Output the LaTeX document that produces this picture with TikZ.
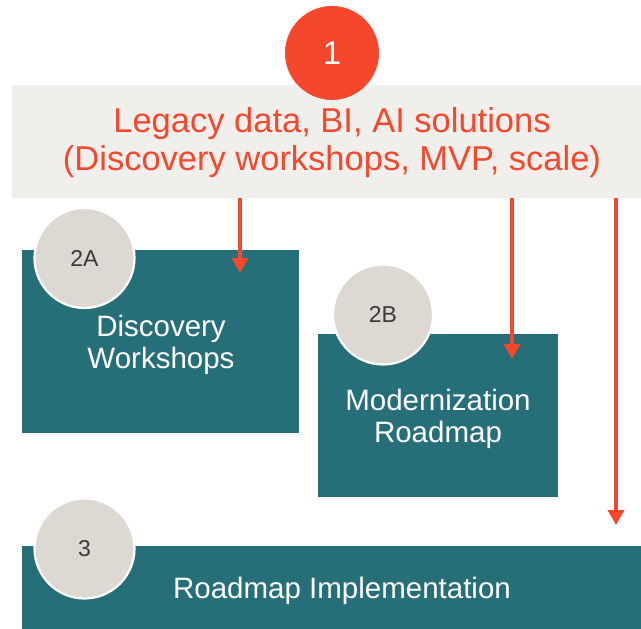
\documentclass[tikz,border=0pt]{standalone}
\usepackage{fontspec}
\setmainfont{Liberation Sans}
\usetikzlibrary{arrows.meta}
\definecolor{accent}{HTML}{F5472C}
\definecolor{teal}{HTML}{276F78}
\definecolor{bandgray}{HTML}{F0EFEB}
\definecolor{circgray}{HTML}{DDD9D2}
\definecolor{numgray}{HTML}{3A3A3A}
\begin{document}
\begin{tikzpicture}[x=1pt,y=-1pt,
  band/.style={fill=bandgray, draw=none, inner sep=0pt, anchor=north west,
    minimum width=629pt, minimum height=113pt},
  tealbox/.style={fill=teal, draw=none, inner sep=0pt, anchor=north west},
  boxtxt/.style={inner sep=0pt, text=white, align=center, font=\fontsize{29.5}{32}\selectfont},
  badge/.style={circle, fill=circgray, draw=white, line width=2.2pt, inner sep=0pt,
    minimum size=100pt, text=numgray, font=\fontsize{23}{26}\selectfont},
  redbadge/.style={circle, fill=accent, draw=white, line width=0.8pt, inner sep=0pt,
    minimum size=95pt, text=white, font=\fontsize{33}{36}\selectfont},
  arr/.style={draw=accent, line width=3.6pt, -{Triangle[width=16pt,length=15pt]}},
  lbl/.style={inner sep=0pt}
]
\useasboundingbox (0,0) rectangle (641,629);
\fill[white] (0,0) rectangle (641,629);

% band
\node[band] (band) at (12,85) {};
\node[lbl, text=accent, align=center, font=\fontsize{34.5}{37.5}\selectfont] (bandtxt) at (332,142.5) {Legacy data, BI, AI solutions\\(Discovery workshops, MVP, scale)};
\node[redbadge] (c1) at (332,53) {1};

% boxes
\node[tealbox, minimum width=277pt, minimum height=183pt] (b2a) at (22,250) {};
\node[boxtxt] (t2a) at (161,345) {Discovery\\Workshops};
\node[tealbox, minimum width=240pt, minimum height=163pt] (b2b) at (318,334) {};
\node[boxtxt] (t2b) at (438,419) {Modernization\\Roadmap};
\node[tealbox, minimum width=619pt, minimum height=83pt] (b3) at (22,546) {};
\node[boxtxt] (t3) at (342,591) {Roadmap Implementation};

% arrows
\coordinate (e1) at (240,273);
\coordinate (e2) at (512,359);
\coordinate (e3) at (616,525);
\draw[arr] (band.south -| e1) -- (e1);
\draw[arr] (band.south -| e2) -- (e2);
\draw[arr] (band.south -| e3) -- (e3);

% badges
\node[badge] (c2a) at (84.5,258) {2A};
\node[badge] (c2b) at (383,314.5) {2B};
\node[badge] (c3) at (84.5,548.5) {3};
\end{tikzpicture}
\end{document}
